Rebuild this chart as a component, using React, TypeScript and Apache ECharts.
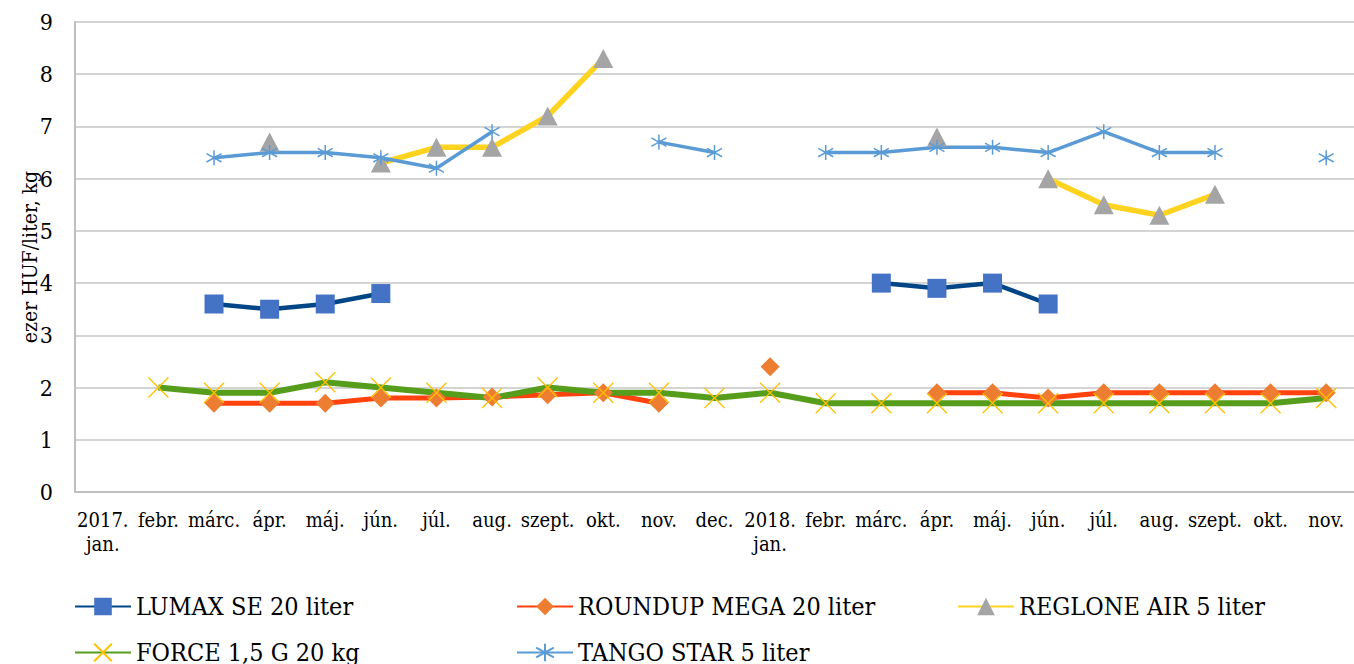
import React, { useEffect, useRef } from 'react';
import * as echarts from 'echarts';

const categories = ['2017.\njan.', 'febr.', 'márc.', 'ápr.', 'máj.', 'jún.', 'júl.', 'aug.', 'szept.', 'okt.', 'nov.', 'dec.', '2018.\njan.', 'febr.', 'márc.', 'ápr.', 'máj.', 'jún.', 'júl.', 'aug.', 'szept.', 'okt.', 'nov.'];

const seriesNames = ['LUMAX SE 20 liter', 'ROUNDUP MEGA 20 liter', 'REGLONE AIR 5 liter', 'FORCE 1,5 G 20 kg', 'TANGO STAR 5 liter'];

const lumax = [null, null, 3.6, 3.5, 3.6, 3.8, null, null, null, null, null, null, null, null, 4.0, 3.9, 4.0, 3.6, null, null, null, null, null];
const roundup = [null, null, 1.7, 1.7, 1.7, 1.8, 1.8, 1.82, 1.86, 1.9, 1.7, null, 2.4, null, null, 1.9, 1.9, 1.8, 1.9, 1.9, 1.9, 1.9, 1.9];
const reglone = [null, null, null, 6.7, null, 6.3, 6.6, 6.6, 7.2, 8.3, null, null, null, null, null, 6.8, null, 6.0, 5.5, 5.3, 5.7, null, null];
const force = [null, 2.0, 1.9, 1.9, 2.1, 2.0, 1.9, 1.8, 2.0, 1.9, 1.9, 1.8, 1.9, 1.7, 1.7, 1.7, 1.7, 1.7, 1.7, 1.7, 1.7, 1.7, 1.8];
const tango = [null, null, 6.4, 6.5, 6.5, 6.4, 6.2, 6.9, null, null, 6.7, 6.5, null, 6.5, 6.5, 6.6, 6.6, 6.5, 6.9, 6.5, 6.5, null, 6.4];

const yTicks = { min: 0, max: 9, interval: 1 };
const yAxisName = 'ezer HUF/liter, kg';

const FONT = 'DejaVu Serif Condensed';

const X_SYMBOL = 'path://M0,0L10,10M10,0L0,10';
const STAR_SYMBOL = 'path://M5,0L5,10M0.7,2.2L9.3,7.8M9.3,2.2L0.7,7.8';

export default function App() {
  const ref = useRef<HTMLDivElement>(null);

  useEffect(() => {
    document.body.style.margin = '0';
    if (!ref.current) return;
    const chart = echarts.init(ref.current, null, { renderer: 'svg' });

    const legendPos = [
      { left: 74, top: 594 },
      { left: 516, top: 594 },
      { left: 957, top: 594 },
      { left: 74, top: 640 },
      { left: 516, top: 640 },
    ];

    const option: any = {
      animation: false,
      backgroundColor: '#ffffff',
      textStyle: { fontFamily: FONT },
      grid: { left: 75, right: 0, top: 22, bottom: 172, containLabel: false },
      legend: seriesNames.map((n, i) => ({
        data: [n],
        left: legendPos[i].left,
        top: legendPos[i].top,
        padding: 0,
        itemWidth: 56,
        itemHeight: 22,
        selectedMode: false,
        textStyle: { fontFamily: FONT, fontSize: 25, color: '#000' },
      })),
      xAxis: {
        type: 'category',
        data: categories,
        boundaryGap: true,
        axisLine: { show: true, lineStyle: { color: '#BFBFBF', width: 2 } },
        axisTick: { show: false },
        axisLabel: {
          interval: 0,
          fontFamily: FONT,
          fontSize: 20,
          lineHeight: 24,
          color: '#000',
          margin: 16,
          align: 'center',
        },
        splitLine: { show: false },
      },
      yAxis: {
        type: 'value',
        min: yTicks.min,
        max: yTicks.max,
        interval: yTicks.interval,
        name: yAxisName,
        nameLocation: 'middle',
        nameRotate: 90,
        nameGap: 35,
        nameMoveOverlap: false,
        nameTextStyle: { fontFamily: FONT, fontSize: 21, color: '#000' },
        axisLine: { show: true, lineStyle: { color: '#BFBFBF', width: 2 } },
        axisTick: { show: false },
        axisLabel: { fontFamily: FONT, fontSize: 23, color: '#000', margin: 22 },
        splitLine: { show: true, lineStyle: { color: '#C6C6C6', width: 1.5 } },
      },
      series: [
        {
          name: seriesNames[0],
          type: 'line',
          data: lumax,
          showAllSymbol: true,
          symbol: 'rect',
          symbolSize: 19,
          lineStyle: { color: '#004586', width: 4.5 },
          itemStyle: { color: '#4472C4' },
        },
        {
          name: seriesNames[1],
          type: 'line',
          data: roundup,
          showAllSymbol: true,
          symbol: 'diamond',
          symbolSize: [19, 19],
          lineStyle: { color: '#FF420E', width: 5 },
          itemStyle: { color: '#ED7D31' },
        },
        {
          name: seriesNames[2],
          type: 'line',
          data: reglone,
          showAllSymbol: true,
          symbol: 'triangle',
          symbolSize: [20, 19],
          lineStyle: { color: '#FFD320', width: 5.5 },
          itemStyle: { color: '#A5A5A5' },
        },
        {
          name: seriesNames[3],
          type: 'line',
          data: force,
          showAllSymbol: true,
          symbol: X_SYMBOL,
          symbolSize: 20,
          lineStyle: { color: '#579D1C', width: 6 },
          itemStyle: { color: '#FFC000', borderColor: '#FFC000', borderWidth: 1.3 },
        },
        {
          name: seriesNames[4],
          type: 'line',
          data: tango,
          showAllSymbol: true,
          symbol: STAR_SYMBOL,
          symbolSize: 15,
          lineStyle: { color: '#5B9BD5', width: 3.5 },
          itemStyle: { color: '#5B9BD5', borderColor: '#5B9BD5', borderWidth: 1.5 },
        },
      ],
    };

    chart.setOption(option);
    return () => chart.dispose();
  }, []);

  return <div ref={ref} style={{ width: 1354, height: 664 }} />;
}
